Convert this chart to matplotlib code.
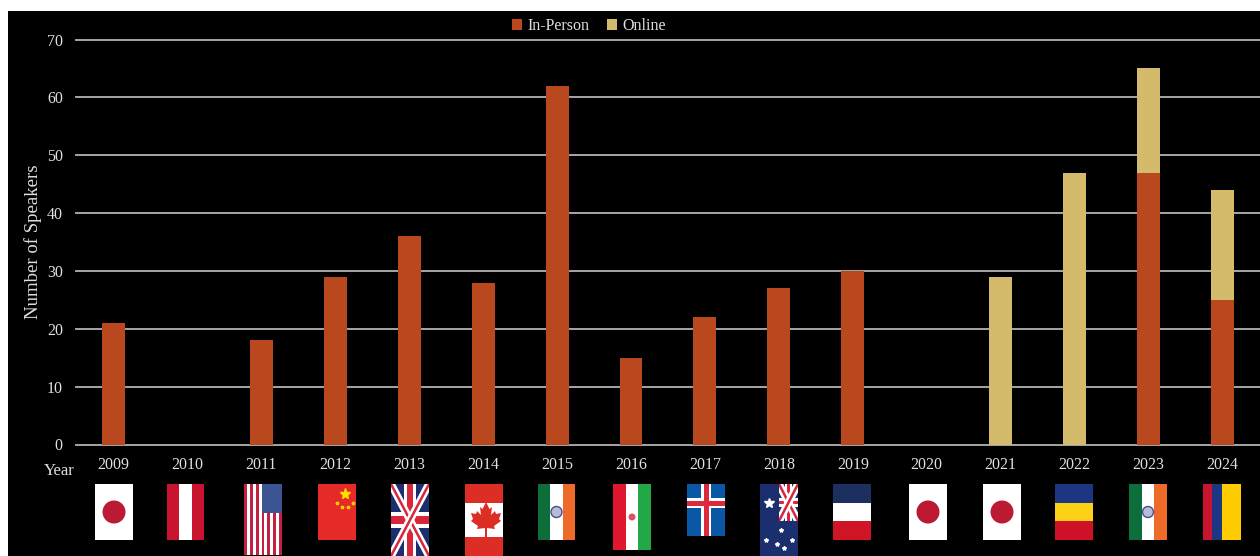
import matplotlib
matplotlib.use("Agg")
from matplotlib import pyplot as plt
from matplotlib.patches import Rectangle, Circle, Polygon

plt.rcParams['font.family'] = ['Liberation Serif', 'DejaVu Serif']

years = list(range(2009, 2025))
in_person = [21, 0, 18, 29, 36, 28, 62, 15, 22, 27, 30, 0, 0, 0, 47, 25]
online = [0, 0, 0, 0, 0, 0, 0, 0, 0, 0, 0, 0, 29, 47, 18, 19]
y_ticks = [0, 10, 20, 30, 40, 50, 60, 70]
flags = ["japan", "austria", "usa", "china", "uk", "canada", "india", "iran",
         "iceland", "australia", "france", "japan", "japan", "romania", "india", "mongolia"]

W, H = 1260, 556
RED_ORANGE = "#b9481f"
GOLD = "#d3bb6b"
GRID = "#a6a6a6"
TXT = "#e0e0e0"

fig = plt.figure(figsize=(W / 100, H / 100), dpi=100, facecolor="white")

# black panel, leaves white strip on top and left
bg = fig.add_axes([0, 0, 1, 1])
bg.set_xlim(0, W)
bg.set_ylim(H, 0)
bg.axis("off")
bg.add_patch(Rectangle((8, 11), W - 8, H - 11, color="black", lw=0))

# main chart
x0, step = 113.5, 73.93
left, right = 76, W
top, bottom = 39.5, 444.5
ax = fig.add_axes([left / W, 1 - bottom / H, (right - left) / W, (bottom - top) / H], facecolor="none")
ax.set_xlim((left - x0) / step, (right - x0) / step)
ax.set_ylim(0, 70)

pos = list(range(len(years)))
ax.bar(pos, in_person, width=0.31, color=RED_ORANGE, label="In-Person", zorder=3)
ax.bar(pos, online, width=0.31, bottom=in_person, color=GOLD, label="Online", zorder=3)

ax.set_yticks(y_ticks)
ax.set_xticks(pos)
ax.set_xticklabels(years)
ax.tick_params(axis="both", length=0, colors=TXT, labelsize=11.5)
ax.tick_params(axis="x", pad=8.7)
ax.tick_params(axis="y", pad=9.5)
ax.grid(axis="y", color=GRID, lw=1.4, zorder=1)
ax.set_axisbelow(True)
for line in ax.get_ygridlines():
    line.set_clip_on(False)
for s in ax.spines.values():
    s.set_visible(False)

ax.legend(loc="upper center", bbox_to_anchor=(0.433, 1.073), ncol=2, frameon=False, fontsize=11.5,
          labelcolor=TXT, handlelength=0.65, handleheight=0.65, handletextpad=0.3, columnspacing=1.1,
          borderpad=0)

bg.text(33, 242, "Number of Speakers", rotation=90, color=TXT, fontsize=13.5, ha="center", va="center")
bg.text(59, 471, "Year", color=TXT, fontsize=12, ha="center", va="center")

# flags, drawn on pixel axes
fl = fig.add_axes([0, 0, 1, 1], facecolor="none")
fl.set_xlim(0, W)
fl.set_ylim(H, 0)
fl.axis("off")

# rough maple leaf outline, relative to its centre, in px
leaf = [(0, -16), (3.5, -9), (6, -11), (5, -3), (9, -7), (10, -4), (15, -5), (13, 1), (15, 3),
        (8, 8), (9, 11), (1, 10), (1, 19), (-1, 19), (-1, 10), (-9, 11), (-8, 8), (-15, 3),
        (-13, 1), (-15, -5), (-10, -4), (-9, -7), (-5, -3), (-6, -11), (-3.5, -9)]


def rect(x, y, w, h, c):
    fl.add_patch(Rectangle((x, y), w, h, color=c, lw=0))


def vstripes(x, y, w, h, cols, fr=None):
    fr = fr or [1 / len(cols)] * len(cols)
    cur = x
    for c, f in zip(cols, fr):
        rect(cur, y, w * f, h, c)
        cur += w * f


def hstripes(x, y, w, h, cols, fr=None):
    fr = fr or [1 / len(cols)] * len(cols)
    cur = y
    for c, f in zip(cols, fr):
        rect(x, cur, w, h * f, c)
        cur += h * f


def uk(x, y, w, h):
    rect(x, y, w, h, "#1b2f6e")
    clip = Rectangle((x, y), w, h, transform=fl.transData)
    for a, b in [((x, y), (x + w, y + h)), ((x + w, y), (x, y + h))]:
        for col, lw in [("white", 5.5), ("#d8263c", 1.8)]:
            ln, = fl.plot([a[0], b[0]], [a[1], b[1]], color=col, lw=lw, solid_capstyle="butt")
            ln.set_clip_path(clip)
    rect(x + w * 0.34, y, w * 0.32, h, "white")
    rect(x, y + h * 0.39, w, h * 0.22, "white")
    rect(x + w * 0.42, y, w * 0.16, h, "#d8263c")
    rect(x, y + h * 0.45, w, h * 0.1, "#d8263c")


def draw_flag(name, cx):
    w = 38
    x, y = cx - w / 2, 484
    if name == "japan":
        rect(x, y, w, 56, "white")
        fl.add_patch(Circle((cx, y + 28), 11.5, color="#bc1a33", lw=0))
    elif name == "austria":
        vstripes(x, y, w, 56, ["#c8142f", "white", "#c8142f"])
    elif name == "usa":
        # flag is turned on its side here
        h = 71
        vstripes(x, y, w, h, ["#c4203f", "white"] * 6 + ["#c4203f"])
        rect(x + 18, y, 20, 29, "#3c5592")
    elif name == "china":
        rect(x, y, w, 56, "#e62a28")
        fl.plot([cx + 8], [y + 10], marker="*", ms=8, color="#ffdd00", lw=0)
        for dx, dy in [(0, 19), (16, 19), (5, 23), (11, 23)]:
            fl.plot([x + 19 + dx], [y + dy], marker="*", ms=2.5, color="#ffcc00", lw=0)
    elif name == "uk":
        uk(x, y, w, 72)
    elif name == "canada":
        hstripes(x, y, w, 72, ["#dc2e24", "white", "#dc2e24"], [0.26, 0.48, 0.26])
        fl.add_patch(Polygon([(cx + 2 + a, y + 34 + b) for a, b in leaf], color="#dc2e24", lw=0))
    elif name == "india":
        vstripes(x, y, w, 56, ["#0d6e3c", "white", "#ee6a28"])
        fl.add_patch(Circle((cx, y + 28), 5.5, facecolor="#b9bcd6", edgecolor="#44508c", lw=1))
    elif name == "iran":
        vstripes(x, y, w, 66, ["#e0172e", "white", "#22a847"])
        fl.add_patch(Circle((cx, y + 33), 3.5, color="#e05060", lw=0))
    elif name == "iceland":
        h = 52
        rect(x, y, w, h, "#0a58a5")
        rect(cx - 5, y, 10, h, "white")
        rect(x, y + 14, w, 10, "white")
        rect(cx - 2.5, y, 5, h, "#dc2a3c")
        rect(x, y + 16.5, w, 5, "#dc2a3c")
    elif name == "australia":
        rect(x, y, w, 72, "#1b2f6e")
        uk(x + 19, y, 19, 37)
        fl.plot([x + 9], [y + 19], marker="*", ms=7, color="white", lw=0)
        for dx, dy in [(21, 46), (6, 56), (32, 56), (24, 64), (17, 60)]:
            fl.plot([x + dx], [y + dy], marker="*", ms=3, color="white", lw=0)
    elif name == "france":
        hstripes(x, y, w, 56, ["#1c2f5f", "white", "#cf1426"])
    elif name == "romania":
        hstripes(x, y, w, 56, ["#1c3684", "#fcd116", "#ce1126"])
    elif name == "mongolia":
        vstripes(x, y, w, 56, ["#c8142f", "#1c3684", "#ffcc00"], [0.26, 0.24, 0.5])


flag_centers = [114, 185.5, 263, 336.5, 410, 484, 556.5, 632, 706, 779, 852, 928, 1002, 1074, 1148, 1221.5]
for name, cx in zip(flags, flag_centers):
    draw_flag(name, cx)

fig.savefig("out.png", dpi=100, facecolor=fig.get_facecolor())
